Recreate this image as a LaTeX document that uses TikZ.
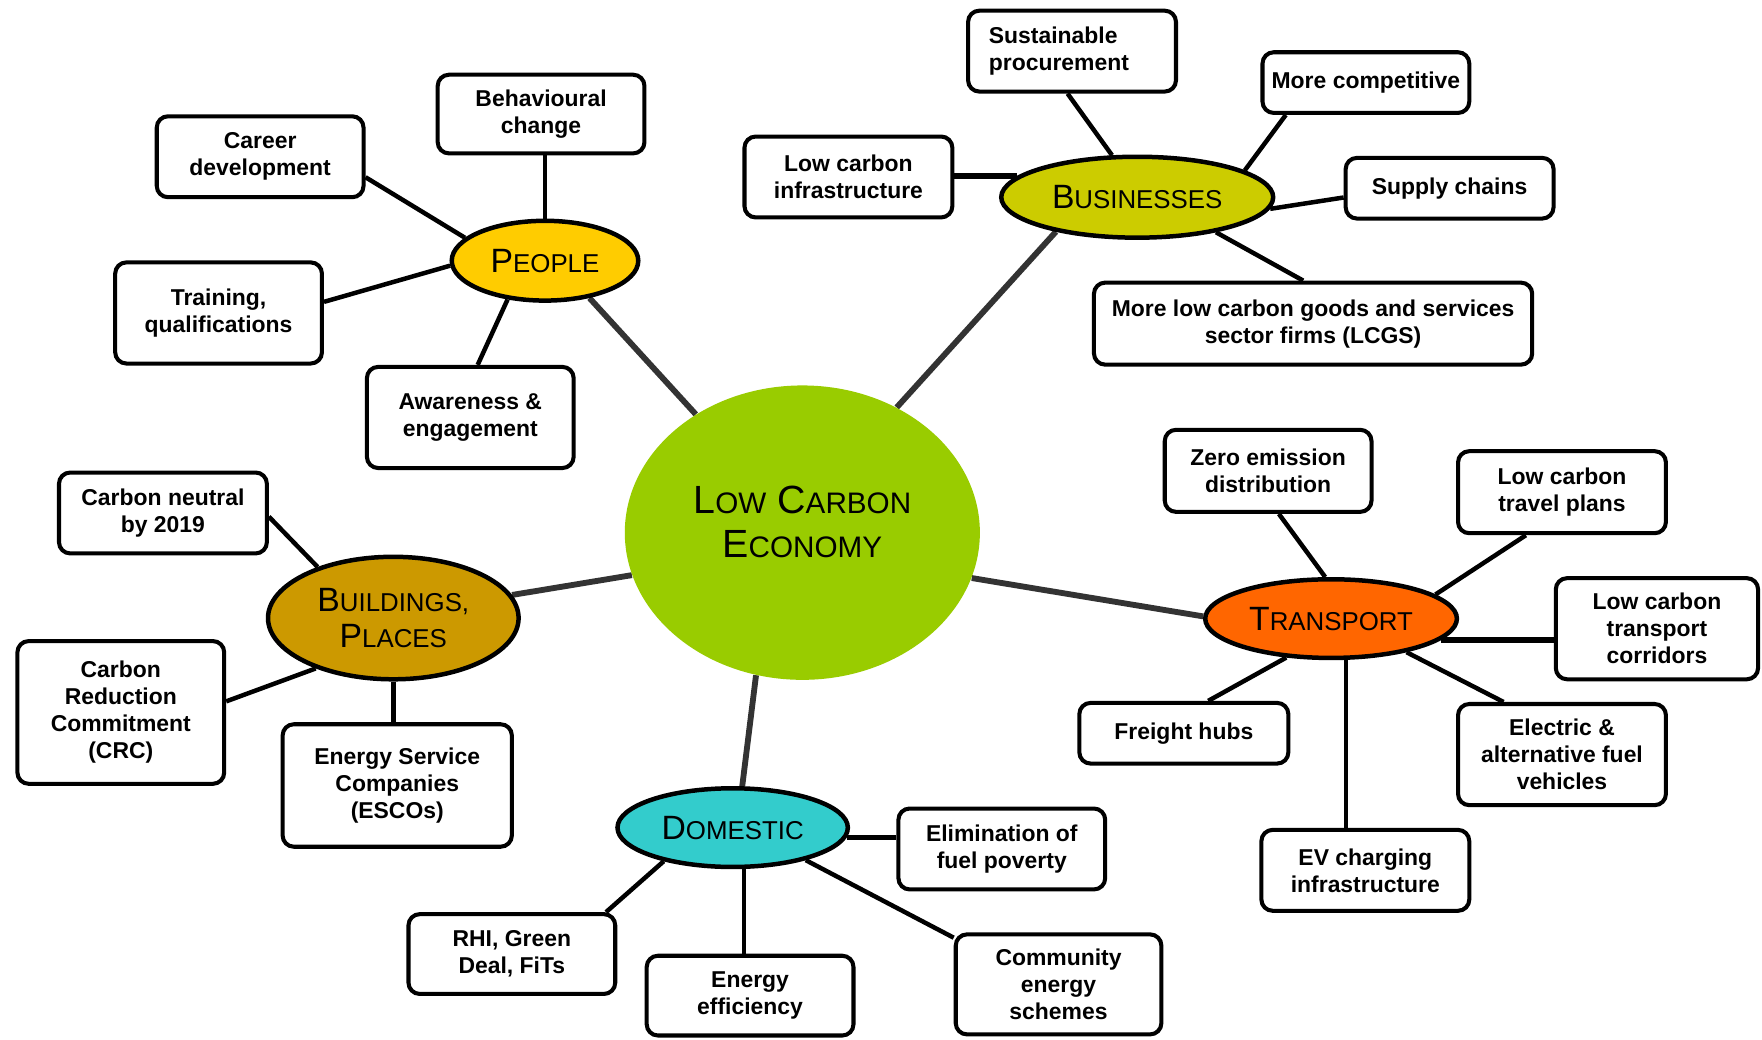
\documentclass[tikz,border=0pt]{standalone}
\usepackage{fontspec}
\setmainfont{Liberation Sans}
\usetikzlibrary{shapes.geometric,calc}

\definecolor{coreGreen}{RGB}{153,204,0}
\definecolor{peopleGold}{RGB}{255,204,0}
\definecolor{bizOlive}{RGB}{204,204,0}
\definecolor{buildOchre}{RGB}{204,153,0}
\definecolor{transOrange}{RGB}{255,102,0}
\definecolor{domTeal}{RGB}{51,204,204}
\definecolor{spokeGrey}{RGB}{51,51,51}

% small-capital look for the hub titles
\newcommand{\hubsc}[1]{{\fontsize{11.5}{16}\selectfont #1}}
\newcommand{\coresc}[1]{{\fontsize{13.2}{19.5}\selectfont #1}}

\pgfdeclarelayer{paper}
\pgfdeclarelayer{links}
\pgfsetlayers{paper,links,main}

\tikzset{
  sz/.style 2 args={minimum width=#1*0.5pt, minimum height=#2*0.5pt},
  topic/.style={draw, line width=1.8pt, rounded corners=5pt, fill=white,
    align=center, inner sep=0pt,
    font=\bfseries\fontsize{10.2}{12}\selectfont},
  hub/.style={ellipse, draw, line width=2pt, inner sep=0pt, align=center,
    font=\fontsize{15}{16}\selectfont},
  sub/.style={line width=2pt, black},
  subheavy/.style={line width=2.6pt, black},
  trunk/.style={line width=2.6pt, spokeGrey},
}

\begin{document}
\begin{tikzpicture}[x=0.5pt, y=-0.5pt]
\useasboundingbox (0,0) rectangle (1568,925);
\begin{pgfonlayer}{paper}
  \fill[white] (0,0) rectangle (1568,925);
\end{pgfonlayer}

% ---- centre ----
\node[ellipse, fill=coreGreen, sz={316}{262}] (ce) at (714,474) {};
\node[font=\fontsize{17.5}{19.5}\selectfont, align=center] (cet) at ($(ce)+(0,-9.5)$)
  {L\coresc{OW} C\coresc{ARBON}\\E\coresc{CONOMY}};

% ---- hubs ----
\node[hub, fill=peopleGold, sz={166}{71}] (pe) at (485,232) {P\hubsc{EOPLE}};
\node[hub, fill=bizOlive, sz={242}{72}] (be) at (1012,175.5) {B\hubsc{USINESSES}};
\node[hub, fill=buildOchre, sz={223}{109}] (bp) at (350,550) {B\hubsc{UILDINGS,}\\P\hubsc{LACES}};
\node[hub, fill=transOrange, sz={224}{70}] (te) at (1184.5,550.5) {T\hubsc{RANSPORT}};
\node[hub, fill=domTeal, sz={205}{70}] (de) at (652,736.5) {D\hubsc{OMESTIC}};

% ---- people ----
\node[topic, sz={184}{70}] (bc) at (481.5,101.5) {Behavioural\\change};
\node[topic, sz={184}{72}] (cd) at (231.5,139.5) {Career\\development};
\node[topic, sz={184}{90}] (tq) at (194.5,278.5) {Training,\\qualifications};
\node[topic, sz={184}{90}] (ae) at (418.5,371.5) {Awareness \&\\engagement};

% ---- businesses ----
\node[topic, sz={185}{72}, text width=74pt, align=left] (sp) at (954,45.5) {Sustainable\\procurement};
\node[topic, sz={184}{54}] (mc) at (1215.5,73.5) {More competitive};
\node[topic, sz={185}{72}] (lci) at (755,157.5) {Low carbon\\infrastructure};
\node[topic, sz={185}{54}] (sc) at (1290,167.5) {Supply chains};
\node[topic, sz={390}{73}] (lcgs) at (1168.5,288) {More low carbon goods and services\\sector firms (LCGS)};

% ---- buildings, places ----
\node[topic, sz={185}{72}] (cn) at (145,456.5) {Carbon neutral\\by 2019};
\node[topic, sz={184}{127}] (crc) at (107.5,634) {Carbon\\Reduction\\Commitment\\(CRC)};
\node[topic, sz={204}{109}] (esco) at (353.5,699) {Energy Service\\Companies\\(ESCOs)};

% ---- transport ----
\node[topic, sz={184}{73}] (zed) at (1128.5,419) {Zero emission\\distribution};
\node[topic, sz={185}{73}] (ltp) at (1390,438) {Low carbon\\travel plans};
\node[topic, sz={180}{90}] (ltc) at (1474.5,559.5) {Low carbon\\transport\\corridors};
\node[topic, sz={186}{54}] (fh) at (1053.5,652.5) {Freight hubs};
\node[topic, sz={185}{90}] (eafv) at (1390,671.5) {Electric \&\\alternative fuel\\vehicles};
\node[topic, sz={185}{72}] (evc) at (1215,774.5) {EV charging\\infrastructure};

% ---- domestic ----
\node[topic, sz={184}{72}] (efp) at (891.5,755.5) {Elimination of\\fuel poverty};
\node[topic, sz={184}{71}] (rhi) at (455.5,849) {RHI, Green\\Deal, FiTs};
\node[topic, sz={184}{71}] (ee) at (667.5,886) {Energy\\efficiency};
\node[topic, sz={183}{89}] (ces) at (942,876) {Community\\energy\\schemes};

% ---- connectors ----
\begin{pgfonlayer}{links}
  % trunks from the centre
  \draw[trunk] (ce.132) -- (pe.-40);
  \draw[trunk] (ce.53.5) -- (be.203);
  \draw[trunk] (ce.194.5) -- (bp.11);
  \draw[trunk] (ce.-15) -- (te.179);
  \draw[trunk] (ce.-108) -- (de.77.5);

  % people
  \draw[sub] (pe.north) -- (pe.north |- bc.south);
  \draw[sub] (cd.-11) -- (pe.164);
  \draw[sub] (tq.6) -- (pe.183);
  \draw[sub] (ae.82) -- (pe.226);

  % businesses
  \draw[sub] (sp.-96) -- (be.121);
  \draw[sub] (mc.202) -- (be.14);
  \draw[subheavy] (be.170.5) -- (be.170.5 -| lci.east);
  \draw[sub] (sc.185) -- (be.-5);
  \draw[sub] (lcgs.103) -- (be.-24);

  % buildings, places
  \draw[sub] (cn.-2) -- (bp.146);
  \draw[sub] (crc.6) -- (bp.213);
  \draw[sub] (bp.south) -- (bp.south |- esco.north);

  % transport
  \draw[sub] (zed.-76) -- (te.98);
  \draw[sub] (ltp.230) -- (te.13.5);
  \draw[subheavy] (te.-11) -- (te.-11 -| ltc.west);
  \draw[sub] (fh.53) -- (te.221);
  \draw[sub] (eafv.138) -- (te.-24);
  \draw[sub] (te.-70.5) -- (te.-70.5 |- evc.north);

  % domestic
  \draw[sub] (de.-5) -- (de.-5 -| efp.west);
  \draw[sub] (rhi.24.4) -- (de.206);
  \draw[sub] (de.-75) -- (de.-75 |- ee.north);
  \draw[sub] (ces.156) -- (de.-24.5);
\end{pgfonlayer}
\end{tikzpicture}
\end{document}
